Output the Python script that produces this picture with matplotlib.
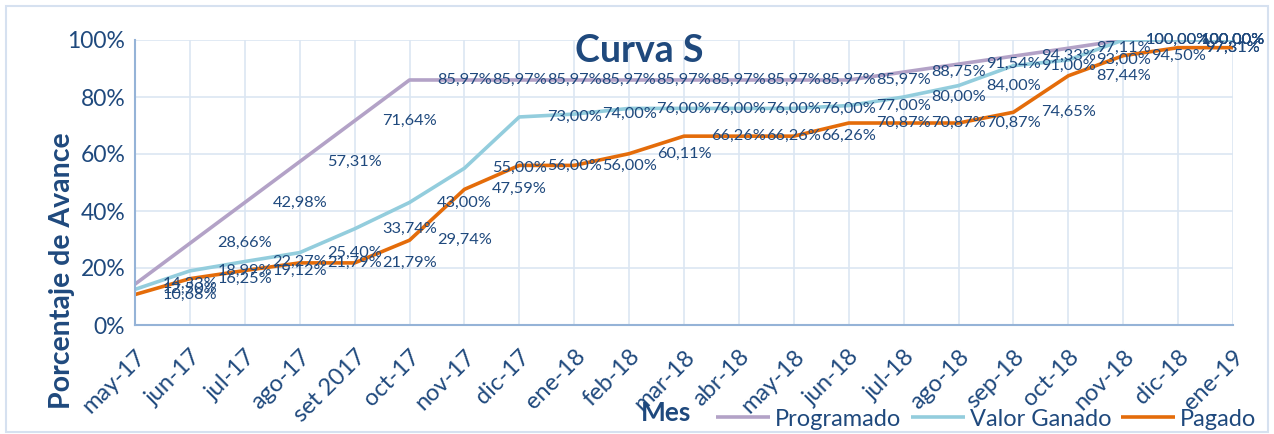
import matplotlib
matplotlib.use("Agg")
import matplotlib.pyplot as plt
from matplotlib.patches import Rectangle

meses = ["may-17", "jun-17", "jul-17", "ago-17", "set 2017", "oct-17", "nov-17",
         "dic-17", "ene-18", "feb-18", "mar-18", "abr-18", "may-18", "jun-18",
         "jul-18", "ago-18", "sep-18", "oct-18", "nov-18", "dic-18", "ene-19"]

programado = [14.33, 28.66, 42.98, 57.31, 71.64, 85.97, 85.97, 85.97, 85.97, 85.97,
              85.97, 85.97, 85.97, 85.97, 88.75, 91.54, 94.33, 97.11, 100.00, 100.00, 100.00]
valor_ganado = [12.50, 18.99, 22.27, 25.40, 33.74, 43.00, 55.00, 73.00, 74.00, 76.00,
                76.00, 76.00, 76.00, 77.00, 80.00, 84.00, 91.00, 93.00, 100.00, 100.00, 100.00]
pagado = [10.68, 16.25, 19.12, 21.79, 21.79, 29.74, 47.59, 56.00, 56.00, 60.11,
          66.26, 66.26, 66.26, 70.87, 70.87, 70.87, 74.65, 87.44, 94.50, 97.31, 97.31]

TXT = "#1F497D"
plt.rcParams["font.family"] = ["Lato", "DejaVu Sans"]

fig = plt.figure(figsize=(12.74, 4.34), dpi=100)
ax = fig.add_axes([135 / 1274, 1 - 325 / 434, 1098 / 1274, 285 / 434])

x = list(range(len(meses)))
series = [("Programado", programado, "#B3A2C7"),
          ("Valor Ganado", valor_ganado, "#93CDDD"),
          ("Pagado", pagado, "#E46C0A")]
for name, vals, col in series:
    ax.plot(x, vals, color=col, lw=2.6, label=name, solid_capstyle="butt")

# data labels (excel drew them one category to the right, kept inside the chart)
last = len(meses) - 1
for name, vals, col in series:
    for i, v in enumerate(vals):
        ax.text(min(i + 1, last), v, f"{v:.2f}%".replace(".", ","), color=TXT,
                fontsize=11.8, ha="center", va="center", clip_on=False)

ax.set_xlim(0, last)
ax.set_ylim(0, 100)
ax.set_xticks(x)
ax.set_xticklabels(meses, rotation=45, ha="right", rotation_mode="anchor")
ax.set_yticks(range(0, 101, 20))
ax.set_yticklabels([f"{t}%" for t in range(0, 101, 20)])
ax.tick_params(length=0, labelcolor=TXT)
ax.tick_params(axis="y", labelsize=16.5, pad=7)
ax.tick_params(axis="x", labelsize=17, pad=15)

ax.grid(True, color="#DCE6F2", lw=1.2)
ax.set_axisbelow(True)
for s in ["top", "right"]:
    ax.spines[s].set_visible(False)
for s in ["left", "bottom"]:
    ax.spines[s].set_color("#95B3D7")
    ax.spines[s].set_linewidth(1.5)

fig.text(639 / 1274, 1 - 51 / 434, "Curva S", fontsize=27, fontweight="bold",
         color=TXT, ha="center", va="center")
fig.text(62 / 1274, 1 - 271 / 434, "Porcentaje de Avance", fontsize=20.5,
         fontweight="bold", color=TXT, rotation=90, ha="center", va="center")
fig.text(666 / 1274, 1 - 413 / 434, "Mes", fontsize=19, fontweight="bold",
         color=TXT, ha="center", va="center")

leg = fig.legend(loc="center left", bbox_to_anchor=(716 / 1274, 1 - 419 / 434),
                 ncol=3, frameon=False, fontsize=17, handlelength=2.3,
                 handletextpad=0.2, columnspacing=0.4, borderaxespad=0,
                 borderpad=0)
for t in leg.get_texts():
    t.set_color(TXT)

fig.patches.append(Rectangle((6 / 1274, 2 / 434), 1262 / 1274, 426 / 434,
                             transform=fig.transFigure, fill=False,
                             edgecolor="#D6E1F0", lw=1.5))

fig.savefig("out.png", dpi=100)
